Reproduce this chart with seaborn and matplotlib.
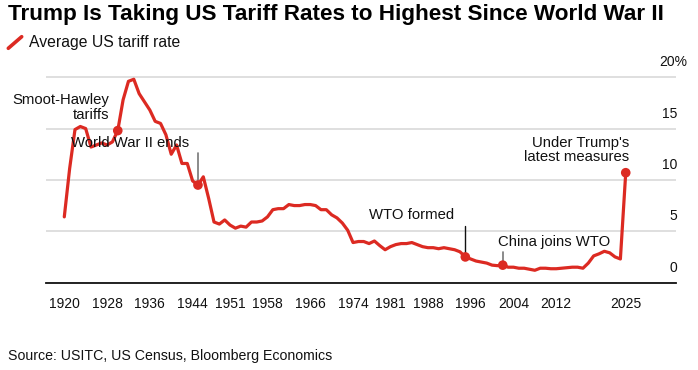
import matplotlib
matplotlib.use("Agg")
import matplotlib.pyplot as plt
import seaborn as sns
import pandas as pd
from matplotlib.lines import Line2D
from matplotlib.transforms import blended_transform_factory

# ---------------- data ----------------
years = list(range(1920, 2026))
tariff_rate = [
    6.4, 11.1, 14.9, 15.2, 15.0, 13.2, 13.4, 13.6, 13.4, 13.7,   # 1920-1929
    14.8, 17.8, 19.6, 19.8, 18.4, 17.6, 16.8, 15.7, 15.5, 14.4,  # 1930-1939
    12.5, 13.4, 11.6, 11.6, 9.9, 9.5, 10.3, 8.2, 5.9, 5.7,       # 1940-1949
    6.1, 5.6, 5.3, 5.5, 5.4, 5.9, 5.9, 6.0, 6.4, 7.1,            # 1950-1959
    7.2, 7.2, 7.6, 7.5, 7.5, 7.6, 7.6, 7.5, 7.1, 7.1,            # 1960-1969
    6.6, 6.3, 5.8, 5.1, 3.9, 4.0, 4.0, 3.8, 4.05, 3.6,           # 1970-1979
    3.2, 3.5, 3.7, 3.8, 3.8, 3.9, 3.7, 3.5, 3.4, 3.4,            # 1980-1989
    3.3, 3.4, 3.3, 3.2, 3.0, 2.5, 2.3, 2.1, 2.0, 1.9,            # 1990-1999
    1.7, 1.65, 1.7, 1.5, 1.5, 1.4, 1.4, 1.3, 1.2, 1.4,           # 2000-2009
    1.4, 1.35, 1.35, 1.4, 1.45, 1.5, 1.5, 1.4, 1.9, 2.6,         # 2010-2019
    2.8, 3.05, 2.9, 2.5, 2.3, 10.7,                              # 2020-2025
]
event_years = [1930, 1945, 1995, 2002, 2025]
x_tick_years = [1920, 1928, 1936, 1944, 1951, 1958, 1966, 1974, 1981,
                1988, 1996, 2004, 2012, 2025]
y_tick_values = [0, 5, 10, 15, 20]
y_tick_labels = ["0", "5", "10", "15", "20%"]

title = "Trump Is Taking US Tariff Rates to Highest Since World War II"
legend_label = "Average US tariff rate"
source = "Source: USITC, US Census, Bloomberg Economics"

RED = "#dc2a22"

# ---------------- figure ----------------
sns.set_style("white")
plt.rcParams['font.family'] = ['Liberation Sans', 'DejaVu Sans']

W, H = 698, 370
fig = plt.figure(figsize=(W / 100, H / 100), dpi=100)
ax_left, ax_right = 46, 676
y0_px, ytop_px = 282.6, 282.6 - 20.2 * 10.27
ax = fig.add_axes([ax_left / W, 1 - y0_px / H, (ax_right - ax_left) / W,
                   (y0_px - ytop_px) / H])

df = pd.DataFrame({"year": years, "rate": tariff_rate})
ev = df[df["year"].isin(event_years)]

sns.lineplot(data=df, x="year", y="rate", ax=ax, color=RED, linewidth=2.3,
             zorder=4, solid_joinstyle="round")
sns.scatterplot(data=ev, x="year", y="rate", ax=ax, color=RED, s=48,
                edgecolor="none", linewidth=0, zorder=5)

ax.set_xlim(1916.58, 2034.4)
ax.set_ylim(0, 20.2)
ax.set_xlabel("")
ax.set_ylabel("")

# grid
ax.set_yticks(y_tick_values)
ax.yaxis.grid(True, color="#dcdcdc", linewidth=1.3)
ax.xaxis.grid(False)
ax.set_axisbelow(True)
ax.tick_params(axis="y", length=0, labelleft=False, labelright=False)

ax.set_xticks(x_tick_years)
ax.set_xticklabels([str(y) for y in x_tick_years])
ax.tick_params(axis="x", length=6, width=1, color="#444444", pad=4.5,
               labelsize=10, labelcolor="#111111")

for s in ["top", "left", "right"]:
    ax.spines[s].set_visible(False)
ax.spines["bottom"].set_color("#111111")
ax.spines["bottom"].set_linewidth(1.3)

# right-side y labels, placed above gridlines
trans = blended_transform_factory(ax.transAxes, ax.transData)
for v, lab in zip(y_tick_values, y_tick_labels):
    xr = 1.0175 if lab.endswith("%") else 1.0016
    ax.text(xr, v + 1.45, lab, transform=trans, ha="right", va="center",
            fontsize=10, color="#111111")

# annotations
ann_kw = dict(fontsize=10.7, color="#111111", zorder=6)
ax.text(1928.4, 17.05, "Smoot-Hawley\ntariffs", ha="right", va="center",
        multialignment="right", linespacing=1.1, **ann_kw)
ax.text(1921.2, 13.6, "World War II ends", ha="left", va="center", **ann_kw)
ax.text(1977.0, 6.6, "WTO formed", ha="left", va="center", **ann_kw)
ax.text(2001.2, 4.0, "China joins WTO", ha="left", va="center", **ann_kw)
ax.text(2025.7, 12.9, "Under Trump's\nlatest measures", ha="right",
        va="center", multialignment="right", linespacing=0.95, **ann_kw)

# pointer lines
ax.plot([1945, 1945], [9.5 + 0.4, 12.6], color="#777777", lw=1.2, zorder=3)
ax.plot([1995, 1995], [2.5, 5.5], color="#111111", lw=1.0, zorder=3)
ax.plot([2002, 2002], [1.7, 3.0], color="#777777", lw=1.2, zorder=3)

# title, legend, source
fig.text(8 / W, 1 - 14.5 / H, title, ha="left", va="center", fontsize=16.2,
         fontweight="bold", color="#000000")
fig.add_artist(Line2D([8.3 / W, 21.7 / W], [1 - 48.3 / H, 1 - 36.7 / H],
                      color=RED, lw=2.6, transform=fig.transFigure))
fig.text(29.3 / W, 1 - 42.3 / H, legend_label, ha="left", va="center",
         fontsize=11.3, color="#111111")
fig.text(8.3 / W, 1 - 356 / H, source, ha="left", va="center",
         fontsize=10.2, color="#111111")

fig.savefig("out.png", dpi=100, facecolor="white")
